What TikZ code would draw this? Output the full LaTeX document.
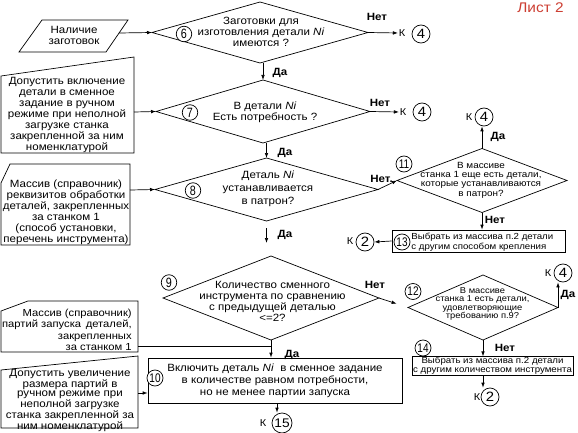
\documentclass[tikz,border=0pt]{standalone}
\usepackage{fontspec}
\setmainfont{Liberation Sans}[FakeStretch=1.1]
\newfontfamily\numfont{Liberation Sans}[FakeStretch=0.8]
\usetikzlibrary{shapes.geometric,arrows.meta,calc}
\definecolor{sheetred}{RGB}{204,62,50}
\begin{document}
\begin{tikzpicture}[x=1pt,y=-1pt, line width=0.7pt,
  dia/.style={diamond, draw, inner sep=0pt, outer sep=0pt},
  txt/.style={align=center, inner sep=0pt, font=\fontsize{10.5}{11}\selectfont},
  small/.style={align=center, inner sep=0pt, font=\fontsize{9}{9.3}\selectfont},
  lbl/.style={inner sep=0pt, font=\bfseries\fontsize{10.5}{11}\selectfont},
  num/.style={circle, draw, inner sep=0pt, minimum size=15.5pt, font=\numfont\fontsize{13.5}{13.5}\selectfont},
  numw/.style={circle, draw, inner sep=0pt, minimum size=16pt, font=\numfont\fontsize{12.5}{12.5}\selectfont},
  con/.style={circle, draw, inner sep=0pt, minimum size=18pt, font=\fontsize{13.5}{13.5}\selectfont},
  ktxt/.style={inner sep=0.5pt, font=\fontsize{10}{10}\selectfont},
  arr/.style={-{Latex[length=5pt,width=3.6pt]}}]
\useasboundingbox (0,0) rectangle (578,433);

% sheet label
\node[inner sep=0pt, text=sheetred, font=\fontsize{14}{14}\selectfont] (sheet) at (540.5,7.5) {Лист 2};

% left input shapes
\draw (42,20) -- (128,20) -- (106,52) -- (19,52) -- cycle;
\node[txt] (b1) at (74,35.5) {Наличие\\заготовок};
\coordinate (b1e) at (119,33);

\draw (1,76) -- (134,57) -- (134,153) -- (1,153) -- cycle;
\node[txt] (b2) at (67,115) {Допустить включение\\детали в сменное\\задание в ручном\\режиме при неполной\\загрузке станка\\закрепленной за ним\\номенклатурой};
\coordinate (b2e) at (134,112);

\draw (10,164) -- (130,164) -- (130,245) -- (1,245) -- (1,183) -- cycle;
\node[txt] (b3) at (66,212.5) {Массив (справочник)\\реквизитов обработки\\деталей, закрепленных\\за станком 1\\(способ установки,\\перечень инструмента)};
\coordinate (b3e) at (130,190);

\draw (28,301) -- (138,301) -- (138,352) -- (1,352) -- (1,311) -- cycle;
\node[txt, align=right, anchor=east, font=\fontsize{10.2}{11.3}\selectfont] (b4) at (132,330) {Массив (справочник)\\партий запуска\hspace{1.5pt} деталей,\\закрепленных\\за станком 1};
\coordinate (b4e) at (138,346);

\draw (1,370) -- (138,356) -- (138,428) -- (1,428) -- cycle;
\node[txt, font=\fontsize{10.5}{9.6}\selectfont] (b5) at (70,400.5) {Допустить увеличение\\размера партий в\\ручном режиме при\\неполной загрузке\\станка закрепленной за\\ним номенклатурой};
\coordinate (b5e) at (138,393);

% diamonds
\node[dia, minimum width=216pt, minimum height=61pt] (d6) at (260,32.5) {};
\node[txt] (t6) at (261,32) {Заготовки для\\изготовления детали \textit{Ni}\\имеются ?};
\node[dia, minimum width=214pt, minimum height=63pt] (d7) at (263,111.5) {};
\node[txt] (t7) at (265,112) {В детали \textit{Ni}\\Есть потребность ?};
\node[dia, minimum width=223pt, minimum height=63pt] (d8) at (266.5,189.5) {};
\node[txt, font=\fontsize{10.5}{13}\selectfont] (t8) at (268,188.5) {Деталь \textit{Ni}\\устанавливается\\в патрон?};
\node[dia, minimum width=216pt, minimum height=84pt] (d9) at (271,298) {};
\node[txt] (t9) at (272.5,301.5) {Количество сменного\\инструмента по сравнению\\с предыдущей деталью\\<=2?};
\node[dia, minimum width=170pt, minimum height=64pt] (d11) at (482,180.5) {};
\node[small] (t11) at (481,180) {В массиве\\станка 1 еще есть детали,\\которые устанавливаются\\в патрон?};
\node[dia, minimum width=150pt, minimum height=65pt] (d12) at (483,307.5) {};
\node[small, font=\fontsize{8.5}{8.4}\selectfont] (t12) at (482.5,304) {В массиве\\станка 1 есть детали,\\удовлетворяющие\\требованию п.9?};

% process boxes
\node[draw, minimum width=254pt, minimum height=45pt, txt, font=\fontsize{10.5}{12}\selectfont] (b10) at (275,380.5) {Включить деталь \textit{Ni}\ \ в сменное задание\\в количестве равном потребности,\\но не менее партии запуска};
\node[draw, minimum width=173pt, minimum height=22pt, inner sep=0pt] (b13) at (478.5,241) {};
\node[inner sep=0pt, align=left, anchor=west, font=\fontsize{8.8}{10}\selectfont] (t13) at (411,242) {Выбрать из массива п.2 детали\\с другим способом крепления};
\node[draw, minimum width=161pt, minimum height=18.5pt, inner sep=0pt, align=center, font=\fontsize{8.8}{9}\selectfont] (b14) at (492.5,366) {Выбрать из массива п.2 детали\\с другим количеством инструмента};

% step numbers
\node[num, fill=white] (s6) at (184,34) {6};
\node[num, fill=white] (s7) at (190,112.5) {7};
\node[num, fill=white] (s8) at (193,190.5) {8};
\node[num, fill=white] (s9) at (169,282.5) {9};
\node[numw, fill=white] (s10) at (155,378) {10};
\node[numw, fill=white] (s11) at (404,164) {11};
\node[numw, fill=white] (s12) at (413,291.5) {12};
\node[numw, fill=white] (s13) at (402,242) {13};
\node[numw, fill=white] (s14) at (423,348) {14};

% off-page connectors
\node[con] (c4a) at (421,34) {4};   \node[ktxt] (k4a) at (402,33) {К};
\node[con] (c4b) at (422,112) {4};  \node[ktxt] (k4b) at (403,112) {К};
\node[con] (c4c) at (484,117) {4};  \node[ktxt] (k4c) at (469,117) {К};
\node[con] (c4d) at (563,273) {4};  \node[ktxt] (k4d) at (548,273) {К};
\node[con] (c2a) at (365,242) {2};  \node[ktxt] (k2a) at (350,241) {К};
\node[con] (c2b) at (490,397) {2};  \node[ktxt] (k2b) at (477,397) {К};
\node[con, minimum size=20pt, font=\fontsize{12.5}{12.5}\selectfont] (c15) at (282,423) {15};
\node[ktxt] (k15) at (263,423) {К};
\coordinate (a15) at (277,403);

% labels
\node[lbl] (n6) at (377,17) {Нет};
\node[lbl] (n7) at (380,103) {Нет};
\node[lbl] (n8) at (381.5,179) {Нет.};
\node[lbl] (n9) at (375,285) {Нет};
\node[lbl] (n11) at (495,220) {Нет};
\node[lbl] (n12) at (505,348) {Нет};
\node[lbl] (y6) at (280,73) {Да};
\node[lbl] (y7) at (285,153) {Да};
\node[lbl] (y8) at (285,235) {Да};
\node[lbl] (y9) at (292,355) {Да};
\node[lbl] (y11) at (498,137) {Да};
\node[lbl] (y12) at (568,295) {Да};

% connectors
\draw[arr] (b1e) -- (d6.west);
\draw[arr] (d6.east) -- (k4a.west);
\draw[arr] (d7.north |- d6.south) -- (d7.north);
\draw[arr] (b2e) -- (d7.west);
\draw[arr] (d7.east) -- (k4b.west);
\draw[arr] (d8.north |- d7.south) -- (d8.north);
\draw[arr] (b3e) -- (d8.west);
\draw[arr] (d8.east) -- (d11.west);
\draw[arr] (d11.north) -- (d11.north |- c4c.south);
\draw[arr] (d11.south) -- (d11.south |- b13.north);
\draw[arr] (b13.west) -- (c2a.east);
\draw[arr, shorten <=7pt, shorten >=13pt] (d8.south) -- (d8.south |- d9.north);
\draw[arr, shorten >=12pt] (d9.east) -- (d12.west);
\draw[arr] (d12.east) -- (d12.east |- c4d.south);
\draw[arr] (d12.south) -- (d12.south |- b14.north);
\draw[arr] (d12.south |- b14.south) -- (d12.south |- c2b.north);
\draw[arr] (d9.south) -- (d9.south |- b10.north);
\draw (b4e) -- (b4e -| d9.south);
\draw[arr] (b5e) -- (b5e -| b10.west);
\draw[arr] (a15) -- (a15 |- c15.north);
\end{tikzpicture}
\end{document}
